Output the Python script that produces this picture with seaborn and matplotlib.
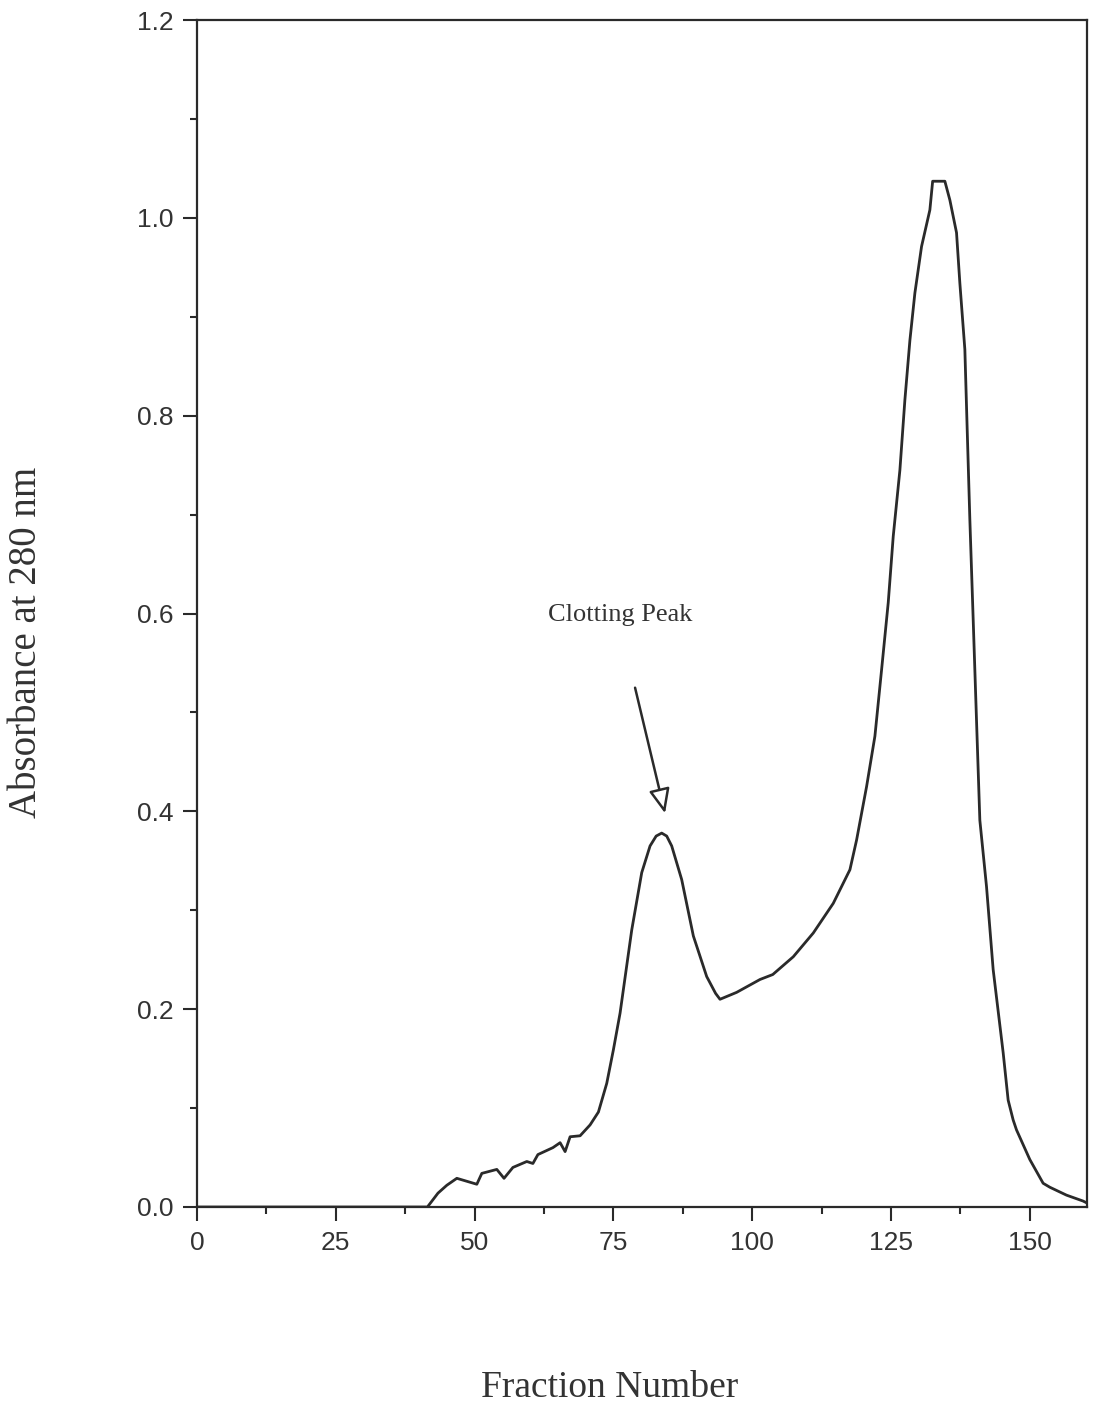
import matplotlib
matplotlib.use("Agg")
import matplotlib.pyplot as plt
from matplotlib.ticker import MultipleLocator, FormatStrFormatter
import seaborn as sns
import pandas as pd

# Elution profile: absorbance at 280 nm per column fraction
fraction = [0, 41.5, 43.4, 45.0, 46.8, 48.6, 50.4, 51.3, 54.0, 55.3, 56.9, 59.4,
            60.5, 61.4, 64.1, 65.4, 66.3, 67.2, 69.0, 70.8, 72.3, 73.8, 75.0,
            76.2, 78.3, 80.1, 81.6, 82.7, 83.7, 84.6, 85.5, 87.3, 89.4, 91.8,
            93.4, 94.2, 97.2, 101.4, 103.7, 107.4, 111.0, 114.6, 117.6, 118.8,
            120.6, 122.1, 123.3, 124.5, 125.4, 126.6, 127.5, 128.4, 129.3, 130.5,
            132.0, 132.5, 134.7, 135.6, 136.8, 137.4, 138.3, 138.7, 139.2, 139.8,
            140.4, 141.0, 142.2, 143.4, 145.2, 146.1, 147.0, 147.6, 150.0, 152.4,
            153.6, 156.6, 159.6, 160.3]
absorbance = [0.0, 0.0, 0.014, 0.022, 0.029, 0.026, 0.023, 0.034, 0.038, 0.029,
              0.040, 0.046, 0.044, 0.053, 0.060, 0.065, 0.056, 0.071, 0.072, 0.083,
              0.096, 0.125, 0.159, 0.196, 0.280, 0.338, 0.365, 0.375, 0.378, 0.375,
              0.365, 0.331, 0.274, 0.233, 0.216, 0.210, 0.217, 0.230, 0.235, 0.253,
              0.277, 0.307, 0.341, 0.371, 0.425, 0.476, 0.543, 0.611, 0.678, 0.745,
              0.816, 0.876, 0.924, 0.971, 1.008, 1.037, 1.037, 1.018, 0.985, 0.934,
              0.867, 0.790, 0.695, 0.594, 0.492, 0.391, 0.324, 0.240, 0.156, 0.108,
              0.088, 0.078, 0.048, 0.024, 0.020, 0.012, 0.006, 0.004]

x_ticks = [0, 25, 50, 75, 100, 125, 150]
y_ticks = [0.0, 0.2, 0.4, 0.6, 0.8, 1.0, 1.2]

peak_label = "Clotting Peak"
peak_tip = (84.3, 0.398)
arrow_tail = (78.9, 0.525)
label_pos = (76.2, 0.598)

df = pd.DataFrame({"Fraction": fraction, "A280": absorbance})

sns.set_style("ticks")
plt.rcParams["font.family"] = ["Liberation Sans", "DejaVu Sans"]

ink = "#2a2a2a"
fig = plt.figure(figsize=(10.93, 14.07), dpi=100)
ax = fig.add_axes([197 / 1093, 1 - 1207 / 1407, 890 / 1093, 1187 / 1407])

sns.lineplot(data=df, x="Fraction", y="A280", ax=ax, color=ink, linewidth=2.0,
             estimator=None, sort=False)

ax.set_xlim(0, 160.3)
ax.set_ylim(0, 1.2)
ax.set_xticks(x_ticks)
ax.set_yticks(y_ticks)
ax.xaxis.set_minor_locator(MultipleLocator(12.5))
ax.yaxis.set_minor_locator(MultipleLocator(0.1))
ax.yaxis.set_major_formatter(FormatStrFormatter("%.1f"))

for side in ["left", "right", "top", "bottom"]:
    ax.spines[side].set_visible(True)
    ax.spines[side].set_linewidth(1.6)
    ax.spines[side].set_color(ink)

ax.tick_params(axis="both", which="major", direction="out", length=10, width=1.5,
               colors=ink, labelsize=19, labelcolor="#333333", pad=7)
ax.tick_params(axis="both", which="minor", direction="out", length=5, width=1.5,
               colors=ink)
ax.tick_params(top=False, right=False, which="both")

serif = ["Liberation Serif", "DejaVu Serif"]
ax.set_xlabel("Fraction Number", fontsize=27, family=serif, color="#333333")
ax.xaxis.set_label_coords(0.464, -0.138)
ax.set_ylabel("Absorbance at 280 nm", fontsize=28, family=serif, color="#333333",
              va="center")
ax.yaxis.set_label_coords(-0.192, 0.476)

ax.annotate("", xy=peak_tip, xytext=arrow_tail,
            arrowprops=dict(arrowstyle="-|>,head_length=0.75,head_width=0.32",
                            mutation_scale=20, fc="white", ec=ink, lw=1.8,
                            shrinkA=0, shrinkB=0))
ax.text(label_pos[0], label_pos[1], peak_label, ha="center", va="center",
        fontsize=19, family=serif, color="#333333")

fig.savefig("out.png", dpi=100, facecolor="white")
